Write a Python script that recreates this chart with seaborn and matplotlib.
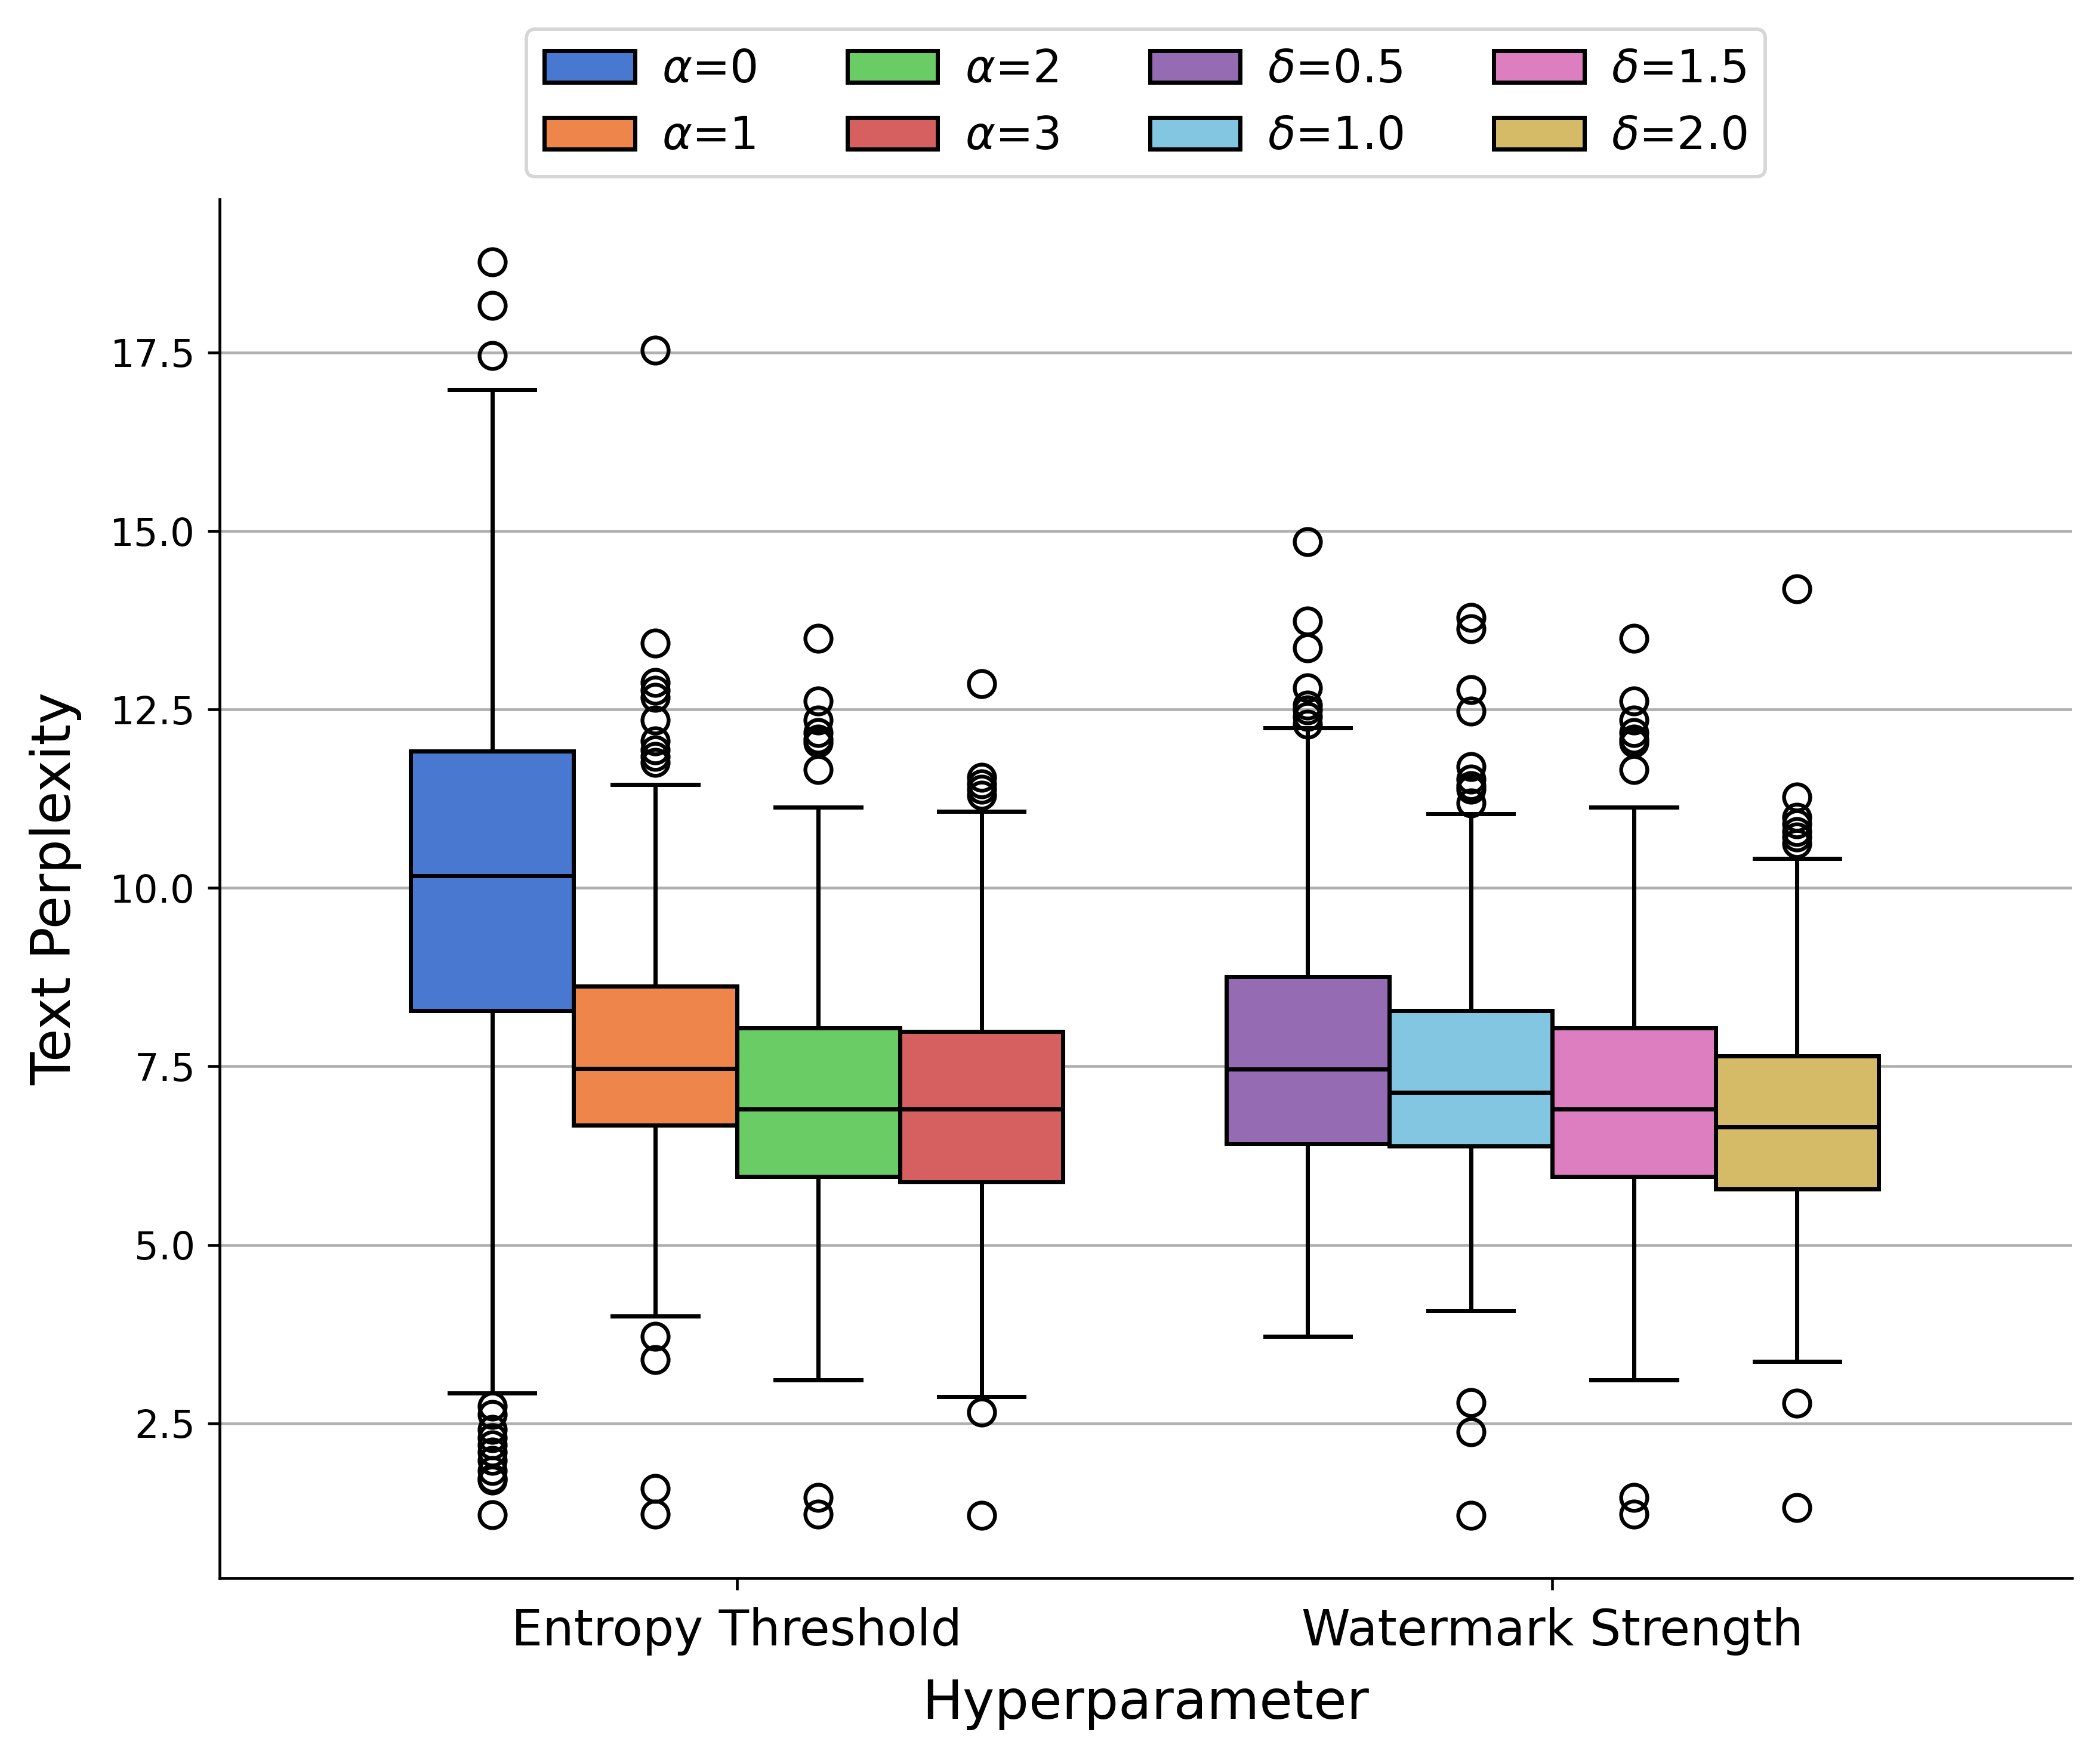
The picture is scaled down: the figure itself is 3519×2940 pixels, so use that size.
import matplotlib
matplotlib.use("Agg")
import matplotlib.pyplot as plt
from matplotlib.patches import Patch
import numpy as np
import pandas as pd
import seaborn as sns


"""
Text perplexity per hyperparameter setting - box plots
"""

hyperparams = ["Entropy Threshold", "Watermark Strength"]

entropy_labels = [r"$\alpha$=0", r"$\alpha$=1", r"$\alpha$=2", r"$\alpha$=3"]
strength_labels = [r"$\delta$=0.5", r"$\delta$=1.0", r"$\delta$=1.5", r"$\delta$=2.0"]

# box summaries: lower whisker, Q1, median, Q3, upper whisker
entropy_whislo = [2.92, 4.00, 3.11, 2.87]
entropy_q1 = [8.28, 6.68, 5.96, 5.88]
entropy_median = [10.17, 7.47, 6.90, 6.90]
entropy_q3 = [11.92, 8.62, 8.04, 7.99]
entropy_whishi = [16.98, 11.45, 11.13, 11.07]
entropy_fliers = [
    [18.77, 18.16, 17.46, 2.74, 2.62, 2.41, 2.30, 2.20, 2.10, 1.98, 1.84, 1.73, 1.70, 1.22],
    [17.53, 13.43, 12.88, 12.77, 12.67, 12.35, 12.06, 11.93, 11.84, 11.76, 3.72, 3.39, 1.59, 1.23],
    [13.50, 12.62, 12.35, 12.18, 12.08, 12.03, 11.66, 1.46, 1.23],
    [12.86, 11.55, 11.46, 11.38, 11.30, 2.66, 1.21],
]

strength_whislo = [3.72, 4.08, 3.11, 3.37]
strength_q1 = [6.42, 6.38, 5.96, 5.78]
strength_median = [7.46, 7.14, 6.90, 6.65]
strength_q3 = [8.76, 8.28, 8.04, 7.65]
strength_whishi = [12.24, 11.04, 11.13, 10.41]
strength_fliers = [
    [14.85, 13.74, 13.36, 12.80, 12.56, 12.49, 12.40, 12.29],
    [13.79, 13.63, 12.78, 12.48, 11.70, 11.52, 11.43, 11.38, 11.19, 2.79, 2.38, 1.21],
    [13.50, 12.62, 12.35, 12.18, 12.08, 12.03, 11.66, 1.46, 1.23],
    [14.19, 11.27, 10.99, 10.90, 10.79, 10.71, 10.62, 2.78, 1.32],
]


def build_frame(group, labels, whislo, q1, med, q3, whishi, fliers, k=60):
    # sample whose quartiles / whiskers / outliers equal the values read above
    rows = []
    for i, lab in enumerate(labels):
        vals = list(fliers[i]) + [whislo[i], whishi[i]] + [q1[i]] * k + [med[i]] * k + [q3[i]] * k
        for v in vals:
            rows.append((group, lab, v))
    return pd.DataFrame(rows, columns=["Hyperparameter", "Setting", "Text Perplexity"])


df_entropy = build_frame(hyperparams[0], entropy_labels, entropy_whislo, entropy_q1,
                         entropy_median, entropy_q3, entropy_whishi, entropy_fliers)
df_strength = build_frame(hyperparams[1], strength_labels, strength_whislo, strength_q1,
                          strength_median, strength_q3, strength_whishi, strength_fliers)

muted = sns.color_palette("muted")
entropy_colors = [muted[0], muted[1], muted[2], muted[3]]
strength_colors = [muted[4], muted[9], muted[6], muted[8]]

dpi = 420
fig = plt.figure(figsize=(3519 / dpi, 2940 / dpi), dpi=dpi)
ax = fig.add_axes([0.1046, 0.1003, 0.882, 0.7861])

flier_style = dict(marker="o", markerfacecolor="none", markeredgecolor="black",
                   markersize=7.5, markeredgewidth=1.1)

for sub, labels, colors in [(df_entropy, entropy_labels, entropy_colors),
                            (df_strength, strength_labels, strength_colors)]:
    sns.boxplot(data=sub, x="Hyperparameter", y="Text Perplexity", hue="Setting",
                order=hyperparams, hue_order=labels, palette=colors, saturation=1,
                width=0.8, gap=0, linecolor="black", linewidth=1.2,
                flierprops=flier_style, capwidths=0.105, legend=False, ax=ax)

ax.set_xlim(-0.634, 1.637)
ax.yaxis.grid(True, color="#b0b0b0", linewidth=0.8)
ax.xaxis.grid(False)
ax.set_axisbelow(True)
sns.despine(ax=ax)

ax.set_xlabel("Hyperparameter", fontsize=15.5, labelpad=6.5)
ax.set_ylabel("Text Perplexity", fontsize=15.5, labelpad=8)
ax.tick_params(axis="x", labelsize=14.2, pad=4.8)
ax.tick_params(axis="y", labelsize=11)

handles = [Patch(facecolor=c, edgecolor="black", linewidth=1.2)
           for c in entropy_colors + strength_colors]
ax.legend(handles, entropy_labels + strength_labels, loc="lower center",
          bbox_to_anchor=(0.5, 1.0), ncol=4, fontsize=13,
          handletextpad=0.6, columnspacing=2.0)

fig.savefig("out.png", dpi=dpi)
